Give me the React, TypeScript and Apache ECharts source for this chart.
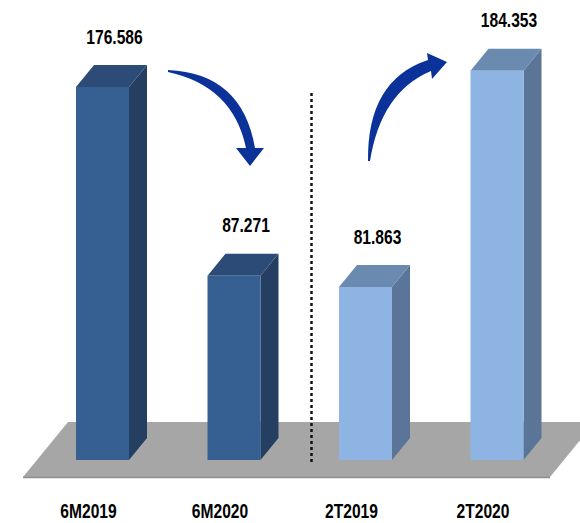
import React, { useEffect, useRef } from "react";
import * as echarts from "echarts";

const categories = ["6M2019", "6M2020", "2T2019", "2T2020"];
const values = [176.586, 87.271, 81.863, 184.353];

const FONT = '"Liberation Sans", Arial, sans-serif';

const palette = [
  { front: "#376092", side: "#243f62", top: "#2c4c77" },
  { front: "#376092", side: "#243f62", top: "#2c4c77" },
  { front: "#8db4e2", side: "#5a7597", top: "#6b8ab0" },
  { front: "#8db4e2", side: "#5a7597", top: "#6b8ab0" },
];

const arrowDown =
  "M168,70 Q242,73 255,148 L264,148 L250,166 L236,148 L246,148 Q233,86 168,72 Z";
const arrowUp =
  "M368,161 Q367,80 428,60 L427,53 L447,62 L432,79 L431,71 Q381,92 370,161 Z";

let registered = false;
function registerShapes() {
  if (registered) return;
  registered = true;
  echarts.graphic.registerShape("arrowDown", echarts.graphic.extendPath(arrowDown, {}) as any);
  echarts.graphic.registerShape("arrowUp", echarts.graphic.extendPath(arrowUp, {}) as any);
}

export default function App() {
  const ref = useRef<HTMLDivElement>(null);
  useEffect(() => {
    if (!ref.current) return;
    registerShapes();
    const chart = echarts.init(ref.current, null, { renderer: "svg" });
    const DX = 18;
    const DY = 22;
    const textStyle = {
      fontFamily: FONT,
      fontWeight: "bold",
      fontSize: 19.5,
      fill: "#000",
      align: "center",
      verticalAlign: "middle",
    };
    chart.setOption({
      animation: false,
      backgroundColor: "#ffffff",
      grid: { left: 36.75, right: 17.25, top: 37.6, bottom: 63 },
      xAxis: {
        type: "category",
        data: categories,
        axisLine: { show: false },
        axisTick: { show: false },
        axisLabel: { show: false },
      },
      yAxis: {
        type: "value",
        min: 0,
        max: 200,
        show: false,
        splitLine: { show: false },
      },
      graphic: [
        {
          type: "polygon",
          z: 1,
          shape: { points: [[68, 422], [595, 422], [550, 477], [23, 477]] },
          style: { fill: "#a6a6a6" },
        },
        {
          type: "line",
          z: 1,
          shape: { x1: 23, y1: 477.5, x2: 550, y2: 477.5 },
          style: { stroke: "#8f8f8f", lineWidth: 1.5 },
        },
        {
          type: "line",
          z: 3,
          shape: { x1: 311.5, y1: 93, x2: 311.5, y2: 463 },
          style: { stroke: "#111", lineWidth: 2.5, lineDash: [3, 3] },
        },
        { type: "arrowDown", z: 10, x: 0, y: 0, style: { fill: "#0a3299" } },
        { type: "arrowUp", z: 10, x: 0, y: 0, style: { fill: "#0a3299" } },
      ],
      series: [
        {
          type: "custom",
          z: 5,
          data: values.map((v, i) => [i, v]),
          renderItem: (params: any, api: any) => {
            const i = params.dataIndex;
            const v = api.value(1);
            const base = api.coord([api.value(0), 0]);
            const top = api.coord([api.value(0), v]);
            const band = api.size([1, 0])[0];
            const w = band * 0.403;
            const x0 = base[0] - w / 2;
            const x1 = base[0] + w / 2;
            const yb = base[1];
            const yt = top[1];
            const c = palette[i];
            return {
              type: "group",
              children: [
                {
                  type: "polygon",
                  shape: { points: [[x1, yb], [x1, yt], [x1 + DX, yt - DY], [x1 + DX, yb - DY]] },
                  style: { fill: c.side },
                },
                {
                  type: "polygon",
                  shape: { points: [[x0, yt], [x1, yt], [x1 + DX, yt - DY], [x0 + DX, yt - DY]] },
                  style: { fill: c.top },
                },
                {
                  type: "rect",
                  shape: { x: x0, y: yt, width: w, height: yb - yt },
                  style: { fill: c.front },
                },
                {
                  type: "text",
                  x: base[0] + 12,
                  y: yt - DY - 28,
                  scaleX: 0.8,
                  style: { ...textStyle, text: v.toFixed(3) },
                },
                {
                  type: "text",
                  x: base[0] - 14,
                  y: yb + 51.5,
                  scaleX: 0.8,
                  style: { ...textStyle, text: categories[i] },
                },
              ],
            };
          },
        },
      ],
    });
    return () => chart.dispose();
  }, []);
  return (
    <div
      ref={ref}
      style={{ position: "fixed", left: 0, top: 0, width: 580, height: 523 }}
    />
  );
}
